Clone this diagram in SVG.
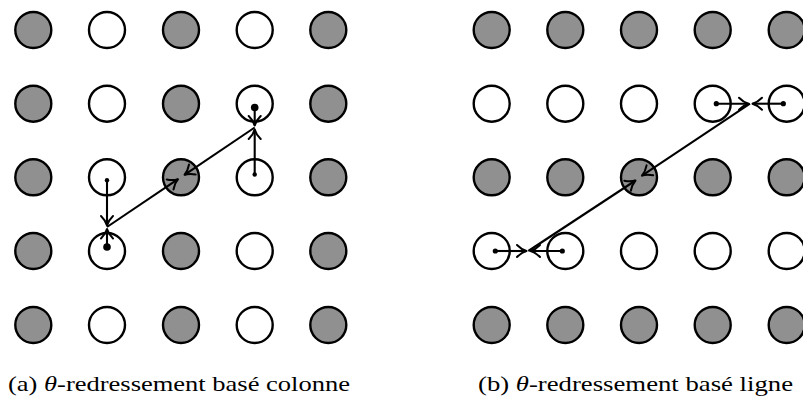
<svg xmlns="http://www.w3.org/2000/svg" width="803" height="398" viewBox="0 0 803 398">
<defs>
<style>
.g{fill:#909090;stroke:#000;stroke-width:2.4}
.w{fill:#fff;stroke:#000;stroke-width:2.4}
.c{fill:none;stroke:#000;stroke-width:2.1;marker-end:url(#ah)}
.d{fill:#000}
.cap{font-family:"Liberation Serif","Times New Roman",serif;font-size:22px;fill:#000}
</style>
<marker id="ah" markerUnits="userSpaceOnUse" viewBox="-12 -8 14 16" refX="0" refY="0" markerWidth="14" markerHeight="16" orient="auto" overflow="visible">
<path d="M-9.5,-6 C-6,-2.4 -2.5,-0.7 0,0 C-2.5,0.7 -6,2.4 -9.5,6" fill="none" stroke="#000" stroke-width="2" stroke-linecap="round" stroke-linejoin="round"/>
</marker>
</defs>
<rect width="803" height="398" fill="#fff"/>
<g id="gridA">
<g id="a00"><circle class="g" cx="33.3" cy="30" r="18"/></g>
<g id="a01"><circle class="w" cx="107" cy="30" r="18"/></g>
<g id="a02"><circle class="g" cx="181" cy="30" r="18"/></g>
<g id="a03"><circle class="w" cx="254.7" cy="30" r="18"/></g>
<g id="a04"><circle class="g" cx="328.3" cy="30" r="18"/></g>
<g id="a10"><circle class="g" cx="33.3" cy="103.7" r="18"/></g>
<g id="a11"><circle class="w" cx="107" cy="103.7" r="18"/></g>
<g id="a12"><circle class="g" cx="181" cy="103.7" r="18"/></g>
<g id="a13"><circle class="w" cx="254.7" cy="103.7" r="18"/></g>
<g id="a14"><circle class="g" cx="328.3" cy="103.7" r="18"/></g>
<g id="a20"><circle class="g" cx="33.3" cy="177.3" r="18"/></g>
<g id="a21"><circle class="w" cx="107" cy="177.3" r="18"/></g>
<g id="a22"><circle class="g" cx="181" cy="177.3" r="18"/></g>
<g id="a23"><circle class="w" cx="254.7" cy="177.3" r="18"/></g>
<g id="a24"><circle class="g" cx="328.3" cy="177.3" r="18"/></g>
<g id="a30"><circle class="g" cx="33.3" cy="251" r="18"/></g>
<g id="a31"><circle class="w" cx="107" cy="251" r="18"/></g>
<g id="a32"><circle class="g" cx="181" cy="251" r="18"/></g>
<g id="a33"><circle class="w" cx="254.7" cy="251" r="18"/></g>
<g id="a34"><circle class="g" cx="328.3" cy="251" r="18"/></g>
<g id="a40"><circle class="g" cx="33.3" cy="325" r="18"/></g>
<g id="a41"><circle class="w" cx="107" cy="325" r="18"/></g>
<g id="a42"><circle class="g" cx="181" cy="325" r="18"/></g>
<g id="a43"><circle class="w" cx="254.7" cy="325" r="18"/></g>
<g id="a44"><circle class="g" cx="328.3" cy="325" r="18"/></g>
</g>
<g id="gridB">
<g id="b00"><circle class="g" cx="491.7" cy="30" r="18"/></g>
<g id="b01"><circle class="g" cx="565.3" cy="30" r="18"/></g>
<g id="b02"><circle class="g" cx="639" cy="30" r="18"/></g>
<g id="b03"><circle class="g" cx="712.7" cy="30" r="18"/></g>
<g id="b04"><circle class="g" cx="786.7" cy="30" r="18"/></g>
<g id="b10"><circle class="w" cx="491.7" cy="103.7" r="18"/></g>
<g id="b11"><circle class="w" cx="565.3" cy="103.7" r="18"/></g>
<g id="b12"><circle class="w" cx="639" cy="103.7" r="18"/></g>
<g id="b13"><circle class="w" cx="712.7" cy="103.7" r="18"/></g>
<g id="b14"><circle class="w" cx="786.7" cy="103.7" r="18"/></g>
<g id="b20"><circle class="g" cx="491.7" cy="177.3" r="18"/></g>
<g id="b21"><circle class="g" cx="565.3" cy="177.3" r="18"/></g>
<g id="b22"><circle class="g" cx="639" cy="177.3" r="18"/></g>
<g id="b23"><circle class="g" cx="712.7" cy="177.3" r="18"/></g>
<g id="b24"><circle class="g" cx="786.7" cy="177.3" r="18"/></g>
<g id="b30"><circle class="w" cx="491.7" cy="251" r="18"/></g>
<g id="b31"><circle class="w" cx="565.3" cy="251" r="18"/></g>
<g id="b32"><circle class="w" cx="639" cy="251" r="18"/></g>
<g id="b33"><circle class="w" cx="712.7" cy="251" r="18"/></g>
<g id="b34"><circle class="w" cx="786.7" cy="251" r="18"/></g>
<g id="b40"><circle class="g" cx="491.7" cy="325" r="18"/></g>
<g id="b41"><circle class="g" cx="565.3" cy="325" r="18"/></g>
<g id="b42"><circle class="g" cx="639" cy="325" r="18"/></g>
<g id="b43"><circle class="g" cx="712.7" cy="325" r="18"/></g>
<g id="b44"><circle class="g" cx="786.7" cy="325" r="18"/></g>
</g>
<g id="connectors">
<circle class="d" cx="107" cy="180.3" r="2.2"/>
<circle class="d" cx="107" cy="247" r="3.8"/>
<circle class="d" cx="254.7" cy="174.5" r="2.2"/>
<circle class="d" cx="254.7" cy="107.5" r="3.8"/>
<line class="c" x1="107" y1="180.3" x2="107" y2="225.5"/>
<line class="c" x1="107" y1="247" x2="107" y2="229"/>
<line class="c" x1="254.7" y1="174.5" x2="254.7" y2="129.5"/>
<line class="c" x1="254.7" y1="107.5" x2="254.7" y2="125.5"/>
<line class="c" x1="107" y1="227" x2="178" y2="179.2"/>
<line class="c" x1="254.7" y1="127.5" x2="184.5" y2="174.8"/>
<circle class="d" cx="716.3" cy="103.7" r="2.6"/>
<circle class="d" cx="783.3" cy="103.7" r="2.6"/>
<circle class="d" cx="495.3" cy="251" r="2.6"/>
<circle class="d" cx="562.3" cy="251" r="2.6"/>
<line class="c" x1="716.3" y1="103.7" x2="748.5" y2="103.7"/>
<line class="c" x1="783.3" y1="103.7" x2="752.5" y2="103.7"/>
<line class="c" x1="495.3" y1="251" x2="526.5" y2="251"/>
<line class="c" x1="562.3" y1="251" x2="530.5" y2="251"/>
<line class="c" x1="750" y1="103.7" x2="642" y2="175.6"/>
<line class="c" x1="528.3" y1="251" x2="635.5" y2="180.5"/>
</g>
<g id="captions">
<text class="cap" font-family="Liberation Serif, serif" x="8" y="391" textLength="342" lengthAdjust="spacingAndGlyphs">(a) <tspan font-style="italic">θ</tspan>-redressement basé colonne</text>
<text class="cap" font-family="Liberation Serif, serif" x="478" y="391" textLength="315" lengthAdjust="spacingAndGlyphs">(b) <tspan font-style="italic">θ</tspan>-redressement basé ligne</text>
</g>
</svg>
